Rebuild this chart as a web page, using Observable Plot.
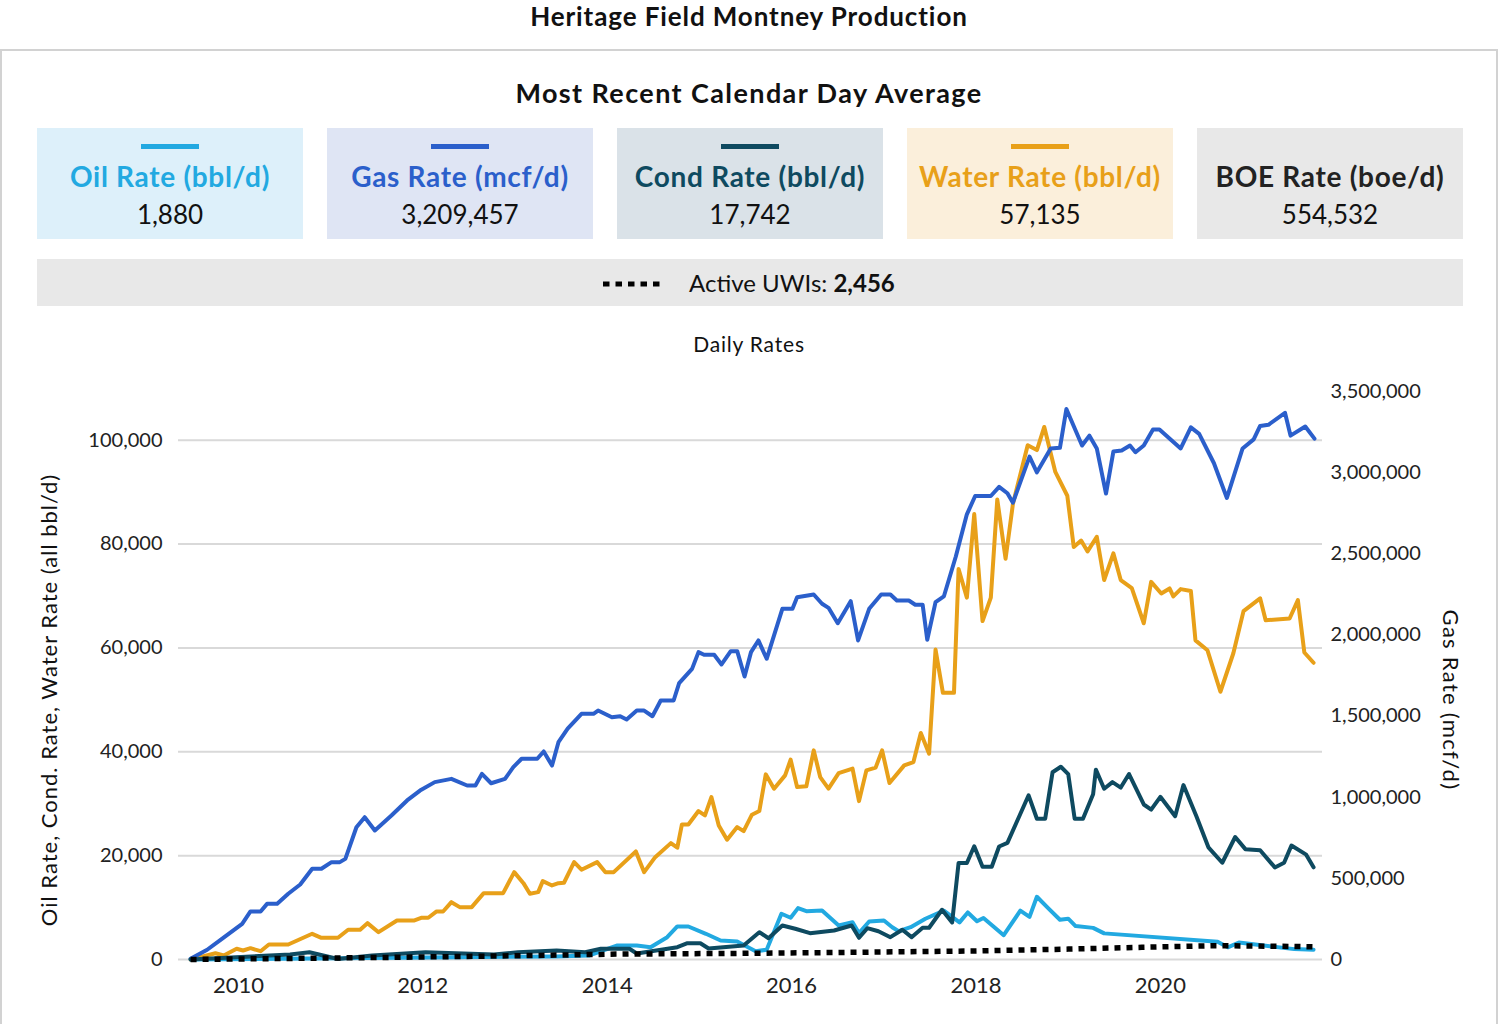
<!DOCTYPE html>
<html><head><meta charset="utf-8">
<script src="https://cdn.jsdelivr.net/npm/d3@7"></script>
<script src="https://cdn.jsdelivr.net/npm/@observablehq/plot@0.6"></script>
<style>
body{margin:0;background:#fff;font-family:Lato,"DejaVu Sans",sans-serif;color:#111;}
#page{position:relative;width:1498px;height:1024px;overflow:hidden;background:#fff;}
.abs{position:absolute;}
#title{left:0;width:1498px;top:0px;text-align:center;font-weight:700;font-size:26px;letter-spacing:0.9px;}
#panel{left:0;top:49px;width:1494px;height:1010px;border:2px solid #d2d2d2;border-bottom:none;}
#sub{left:0;width:1498px;top:76px;text-align:center;font-weight:700;font-size:27px;letter-spacing:1.4px;}
.card{top:128px;width:266px;height:111px;text-align:center;}
.card .bar{position:absolute;left:104px;top:16px;width:58px;height:5px;}
.card .lab{position:absolute;left:0;width:266px;top:31px;font-weight:700;font-size:28px;letter-spacing:0.7px;}
.card .val{position:absolute;left:0;width:266px;top:70px;font-size:26px;color:#111;}
#uwi{left:37px;top:259px;width:1426px;height:47px;background:#e8e8e8;}
#uwi svg{position:absolute;left:566px;top:21px;}
#uwi .t{position:absolute;left:652px;top:9px;font-size:24px;}
#daily{left:0;width:1498px;top:331px;text-align:center;font-size:21px;letter-spacing:0.8px;}
#chart{left:0;top:360px;}
#ylab{left:48px;top:700px;width:600px;text-align:center;font-size:22px;letter-spacing:1px;transform:translate(-50%,-50%) rotate(-90deg);}
#ylab2{left:1451px;top:700px;width:300px;text-align:center;font-size:22px;letter-spacing:1.3px;transform:translate(-50%,-50%) rotate(90deg);}
</style></head>
<body><div id="page">
<div id="title" class="abs">Heritage Field Montney Production</div>
<div id="panel" class="abs"></div>
<div id="sub" class="abs">Most Recent Calendar Day Average</div>
<div id="cards"></div>
<div id="uwi" class="abs"><svg width="70" height="8"><line x1="0" y1="4" x2="62" y2="4" stroke="#000" stroke-width="5" stroke-dasharray="6.5 6"/></svg><div class="t">Active UWIs: <b id="uwiv"></b></div></div>
<div id="daily" class="abs">Daily Rates</div>
<div id="chart" class="abs"></div>
<div id="ylab" class="abs">Oil Rate, Cond. Rate, Water Rate (all bbl/d)</div>
<div id="ylab2" class="abs">Gas Rate (mcf/d)</div>
</div>
<script>
// ---- card data ----
const cardLabels = ["Oil Rate (bbl/d)", "Gas Rate (mcf/d)", "Cond Rate (bbl/d)", "Water Rate (bbl/d)", "BOE Rate (boe/d)"];
const cardValues = [1880, 3209457, 17742, 57135, 554532];
const activeUwiCount = 2456;
const seriesColors = ["#22A9E1", "#2B5FCB", "#0E4A60", "#E8A019", null];
const cardBackgrounds = ["#DDF0FA", "#DFE5F4", "#DAE2E8", "#FBEFDB", "#E8E8E8"];

// ---- axis ticks ----
const leftTicks = [0, 20000, 40000, 60000, 80000, 100000];
const gasTicks = [0, 500000, 1000000, 1500000, 2000000, 2500000, 3000000, 3500000];
const yearTicks = [2010, 2012, 2014, 2016, 2018, 2020];

// ---- series: [decimal year, value] ----
const gasRate = [
[2009.48,5000],[2009.66,60000],[2009.82,127500],[2010.04,220000],[2010.13,296000],[2010.24,296000],[2010.31,343000],[2010.42,343000],
[2010.54,405000],[2010.67,462000],[2010.80,559000],[2010.90,559000],[2011.01,600000],[2011.10,600000],[2011.16,620000],[2011.28,815000],
[2011.37,877000],[2011.48,795000],[2011.66,887000],[2011.83,980000],[2011.97,1041000],[2012.13,1093000],[2012.31,1113000],[2012.48,1072000],
[2012.57,1072000],[2012.64,1144000],[2012.74,1086000],[2012.89,1113000],[2012.98,1185000],[2013.07,1237000],[2013.24,1237000],[2013.31,1282000],
[2013.40,1195000],[2013.47,1339000],[2013.57,1422000],[2013.72,1514000],[2013.85,1514000],[2013.90,1534000],[2014.05,1493000],[2014.14,1499000],
[2014.21,1479000],[2014.32,1534000],[2014.40,1534000],[2014.49,1499000],[2014.58,1596000],[2014.72,1596000],[2014.78,1703000],[2014.92,1791000],
[2014.99,1894000],[2015.05,1878000],[2015.16,1878000],[2015.24,1818000],[2015.34,1900000],[2015.41,1900000],[2015.49,1744000],[2015.56,1894000],
[2015.64,1966000],[2015.73,1853000],[2015.90,2161000],[2016.01,2161000],[2016.06,2232000],[2016.24,2249000],[2016.33,2192000],[2016.40,2167000],
[2016.50,2072000],[2016.64,2208000],[2016.72,1966000],[2016.84,2161000],[2016.97,2249000],[2017.07,2249000],[2017.14,2212000],[2017.27,2212000],
[2017.34,2186000],[2017.42,2186000],[2017.47,1970000],[2017.56,2202000],[2017.65,2237000],[2017.78,2483000],[2017.90,2743000],[2017.99,2856000],
[2018.16,2856000],[2018.25,2912000],[2018.34,2873000],[2018.40,2815000],[2018.58,3099000],[2018.66,3002000],[2018.81,3149000],[2018.91,3153000],
[2018.98,3392000],[2019.15,3167000],[2019.23,3228000],[2019.31,3149000],[2019.41,2871000],[2019.49,3130000],[2019.58,3137000],[2019.67,3167000],
[2019.73,3126000],[2019.82,3167000],[2019.92,3266000],[2019.99,3266000],[2020.22,3149000],[2020.33,3279000],[2020.42,3239000],[2020.58,3058000],
[2020.72,2844000],[2020.89,3149000],[2021.01,3205000],[2021.08,3288000],[2021.17,3295000],[2021.35,3369000],[2021.41,3228000],[2021.57,3284000],
[2021.67,3209457]];

const waterRate = [
[2009.48,0],[2009.58,440],[2009.75,1210],[2009.84,770],[2009.98,2060],[2010.05,1730],[2010.13,2180],[2010.24,1600],[2010.33,2890],[2010.54,2890],
[2010.80,4950],[2010.90,4180],[2011.08,4180],[2011.19,5720],[2011.32,5720],[2011.40,7000],[2011.52,5260],[2011.72,7520],[2011.91,7520],[2011.99,8040],
[2012.06,8040],[2012.15,9250],[2012.22,9250],[2012.31,11040],[2012.40,10080],[2012.53,10080],[2012.66,12780],[2012.87,12780],[2012.99,16820],[2013.09,14700],
[2013.16,12660],[2013.25,12970],[2013.30,15090],[2013.40,14260],[2013.47,14700],[2013.53,14780],[2013.64,18750],[2013.72,17290],[2013.89,18750],[2013.98,16820],
[2014.07,16820],[2014.31,20810],[2014.40,16820],[2014.52,19710],[2014.69,22410],[2014.76,21520],[2014.81,26010],[2014.88,26010],[2014.99,28580],[2015.06,27750],
[2015.13,31280],[2015.21,25820],[2015.30,23060],[2015.41,25500],[2015.48,24720],[2015.57,27880],[2015.65,28580],[2015.72,35650],[2015.81,32890],[2015.93,35460],
[2015.99,38480],[2016.06,33200],[2016.16,33340],[2016.24,40270],[2016.31,35130],[2016.40,32890],[2016.51,35900],[2016.66,36750],[2016.73,30500],[2016.81,36420],
[2016.91,36940],[2016.98,40270],[2017.06,33970],[2017.22,37380],[2017.32,38020],[2017.40,43610],[2017.49,39640],[2017.56,59680],[2017.64,51350],[2017.76,51350],
[2017.81,75190],[2017.90,69680],[2017.98,85770],[2018.07,65170],[2018.16,69680],[2018.23,88580],[2018.32,77160],[2018.40,87740],[2018.56,99030],[2018.66,98100],
[2018.74,102550],[2018.86,93880],[2018.99,89300],[2019.06,79430],[2019.14,80680],[2019.21,78580],[2019.31,81400],[2019.39,73070],[2019.49,78220],[2019.57,73070],
[2019.69,71530],[2019.82,64750],[2019.90,72720],[2020.01,70470],[2020.10,71450],[2020.14,69910],[2020.22,71320],[2020.33,70950],[2020.38,61450],[2020.51,59540],
[2020.65,51560],[2020.79,58970],[2020.90,67080],[2021.08,69550],[2021.14,65330],[2021.40,65670],[2021.49,69200],[2021.56,59120],[2021.66,57135]];

const condRate = [
[2009.48,0],[2010.56,960],[2010.77,1400],[2011.08,100],[2011.45,770],[2012.03,1400],[2012.77,960],[2013.03,1400],[2013.45,1730],[2013.76,1400],
[2013.93,2060],[2014.24,2060],[2014.32,1160],[2014.76,2370],[2014.87,3140],[2015.01,3140],[2015.10,2120],[2015.48,2700],[2015.65,5260],[2015.75,4100],
[2015.90,6550],[2016.04,5920],[2016.20,5070],[2016.46,5590],[2016.65,6550],[2016.73,4180],[2016.82,6030],[2016.94,5450],[2017.07,4300],[2017.20,5720],
[2017.30,4300],[2017.42,6110],[2017.49,6110],[2017.63,9580],[2017.74,7130],[2017.81,18580],[2017.90,18580],[2017.98,21810],[2018.07,17860],[2018.17,17860],
[2018.25,21760],[2018.34,22450],[2018.57,31620],[2018.66,27110],[2018.75,27110],[2018.83,36050],[2018.92,37110],[2019.00,35710],[2019.07,27110],[2019.16,27110],
[2019.27,31830],[2019.30,36560],[2019.39,32890],[2019.48,34150],[2019.57,33110],[2019.66,35710],[2019.82,29850],[2019.90,28870],[2020.00,31330],[2020.16,27600],
[2020.25,33590],[2020.39,27600],[2020.52,21600],[2020.67,18630],[2020.81,23590],[2020.92,21250],[2021.08,21040],[2021.24,17730],[2021.34,18630],[2021.42,21950],
[2021.58,20190],[2021.66,17742]];

const oilRate = [
[2009.48,0],[2010.79,200],[2012.03,400],[2013.44,600],[2013.80,770],[2014.11,2700],[2014.32,2700],[2014.47,2370],[2014.65,4300],[2014.76,6360],
[2014.88,6360],[2015.07,4950],[2015.23,3660],[2015.41,3470],[2015.61,1600],[2015.73,1870],[2015.89,8810],[2015.99,8040],[2016.07,9890],[2016.16,9310],
[2016.33,9440],[2016.51,6550],[2016.66,7190],[2016.73,5070],[2016.84,7320],[2017.00,7520],[2017.09,6220],[2017.16,5450],[2017.29,6220],[2017.45,7840],
[2017.65,9400],[2017.82,7150],[2017.91,9060],[2018.01,7360],[2018.08,8000],[2018.30,4680],[2018.48,9400],[2018.58,8210],[2018.66,12080],[2018.79,9750],
[2018.91,7650],[2019.00,7860],[2019.08,6440],[2019.27,6090],[2019.39,5030],[2020.62,3410],[2020.73,2350],[2020.85,3280],[2021.45,2000],[2021.66,1880]];

const activeUwis = [
[2009.48,0],[2010.50,200],[2011.54,385],[2012.40,580],[2013.20,770],[2014.10,1040],[2015.40,1175],[2016.50,1350],[2017.50,1550],[2018.00,1650],
[2019.00,2000],[2019.80,2350],[2020.60,2650],[2021.00,2600],[2021.66,2456]];

// ---- build cards ----
const fmt = d3.format(",");
const cardsDiv = document.getElementById("cards");
cardLabels.forEach((lab, i) => {
  const c = document.createElement("div");
  c.className = "card abs";
  c.style.left = (37 + i * 290) + "px";
  c.style.background = cardBackgrounds[i];
  if (seriesColors[i]) {
    const b = document.createElement("div"); b.className = "bar"; b.style.background = seriesColors[i]; c.appendChild(b);
  }
  const l = document.createElement("div"); l.className = "lab"; l.textContent = lab; l.style.color = seriesColors[i] || "#222"; c.appendChild(l);
  const v = document.createElement("div"); v.className = "val"; v.textContent = fmt(cardValues[i]); c.appendChild(v);
  cardsDiv.appendChild(c);
});
document.getElementById("uwiv").textContent = fmt(activeUwiCount);

// ---- chart ----
const RATIO = 32; // mcf per bbl on the secondary axis
const toDate = t => { const y = Math.floor(t); const s = Date.UTC(y,0,1), e = Date.UTC(y+1,0,1); return new Date(s + (t - y) * (e - s)); };
const rows = (arr, k = 1) => arr.map(([t, v]) => ({date: toDate(t), value: v / k}));

const chart = Plot.plot({
  width: 1498, height: 664,
  marginLeft: 178, marginRight: 176, marginTop: 31, marginBottom: 65,
  style: {fontFamily: "Lato, 'DejaVu Sans', sans-serif", fontSize: "20px", color: "#222", background: "transparent"},
  x: {type: "utc", domain: [toDate(2009.349), toDate(2021.757)]},
  y: {domain: [0, 3500000 / RATIO]},
  marks: [
    Plot.gridY(leftTicks, {stroke: "#d9d9d9", strokeOpacity: 1, strokeWidth: 2}),
    Plot.line(rows(waterRate), {x: "date", y: "value", stroke: seriesColors[3], strokeWidth: 4}),
    Plot.line(rows(gasRate, RATIO), {x: "date", y: "value", stroke: seriesColors[1], strokeWidth: 4}),
    Plot.line(rows(oilRate), {x: "date", y: "value", stroke: seriesColors[0], strokeWidth: 4}),
    Plot.line(rows(condRate), {x: "date", y: "value", stroke: seriesColors[2], strokeWidth: 4}),
    Plot.line(rows(activeUwis), {x: "date", y: "value", stroke: "#000", strokeWidth: 5.5, strokeDasharray: "6,6", strokeLinecap: "butt"}),
    Plot.axisY(leftTicks, {anchor: "left", tickSize: 0, tickPadding: 16, tickFormat: fmt, label: null, fontSize: 20}),
    Plot.axisY(gasTicks.map(d => d / RATIO), {anchor: "right", tickSize: 0, tickPadding: 8, tickFormat: d => fmt(Math.round(d * RATIO)), label: null, fontSize: 20}),
    Plot.axisX(yearTicks.map(y => toDate(y)), {tickSize: 0, tickPadding: 18, tickFormat: d3.utcFormat("%Y"), label: null, fontSize: 22})
  ]
});
document.getElementById("chart").appendChild(chart);
</script>
</body></html>
